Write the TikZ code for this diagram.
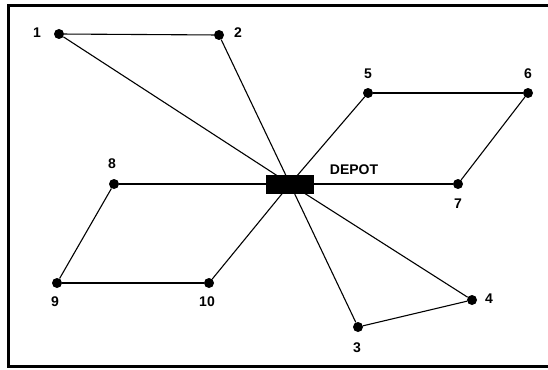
\documentclass[tikz,border=0pt]{standalone}
\usepackage{fontspec}
\setmainfont{Liberation Sans}
\begin{document}
\begin{tikzpicture}[x=1pt,y=-1pt,
  dot/.style={circle,fill=black,inner sep=0pt,minimum size=10pt},
  lbl/.style={font=\bfseries\fontsize{14}{16}\selectfont,inner sep=0pt},
  edge/.style={line width=1.1pt},
  depotbox/.style={fill=black,draw=black,minimum width=47pt,minimum height=18pt,inner sep=0pt}]
\useasboundingbox (0,0) rectangle (548,369);
\draw[line width=3pt] (552,6) -- (8,6) -- (8,366) -- (552,366);
\coordinate (c) at (290,184);
\node[dot] (n1) at (59,34) {};
\node[dot] (n2) at (219,35) {};
\node[dot] (n5) at (368,93) {};
\node[dot] (n6) at (528,93) {};
\node[dot] (n8) at (114,184) {};
\node[dot] (n7) at (458,184) {};
\node[dot] (n9) at (57,283) {};
\node[dot] (n10) at (209,283) {};
\node[dot] (n4) at (472,300) {};
\node[dot] (n3) at (358,327) {};
\draw[edge] (n1) -- (n2);
\draw[edge] (n1) -- (c);
\draw[edge] (n2) -- (c);
\draw[edge] (c) -- (n5);
\draw[edge] (n5) -- (n6);
\draw[edge] (n6) -- (n7);
\draw[edge] (n7) -- (c);
\draw[edge] (c) -- (n8);
\draw[edge] (n8) -- (n9);
\draw[edge] (n9) -- (n10);
\draw[edge] (n10) -- (c);
\draw[edge] (c) -- (n3);
\draw[edge] (n3) -- (n4);
\draw[edge] (n4) -- (c);
\node[depotbox] (depot) at (c) {};
\node[lbl] (ldepot) at (354,170) {DEPOT};
\node[lbl] (l1) at (37,33) {1};
\node[lbl] (l2) at (238,33) {2};
\node[lbl] (l5) at (368,74) {5};
\node[lbl] (l6) at (528,74) {6};
\node[lbl] (l8) at (112,164) {8};
\node[lbl] (l7) at (458,204) {7};
\node[lbl] (l9) at (55,302) {9};
\node[lbl] (l10) at (207,302) {10};
\node[lbl] (l4) at (489,299) {4};
\node[lbl] (l3) at (357,348) {3};
\end{tikzpicture}
\end{document}
